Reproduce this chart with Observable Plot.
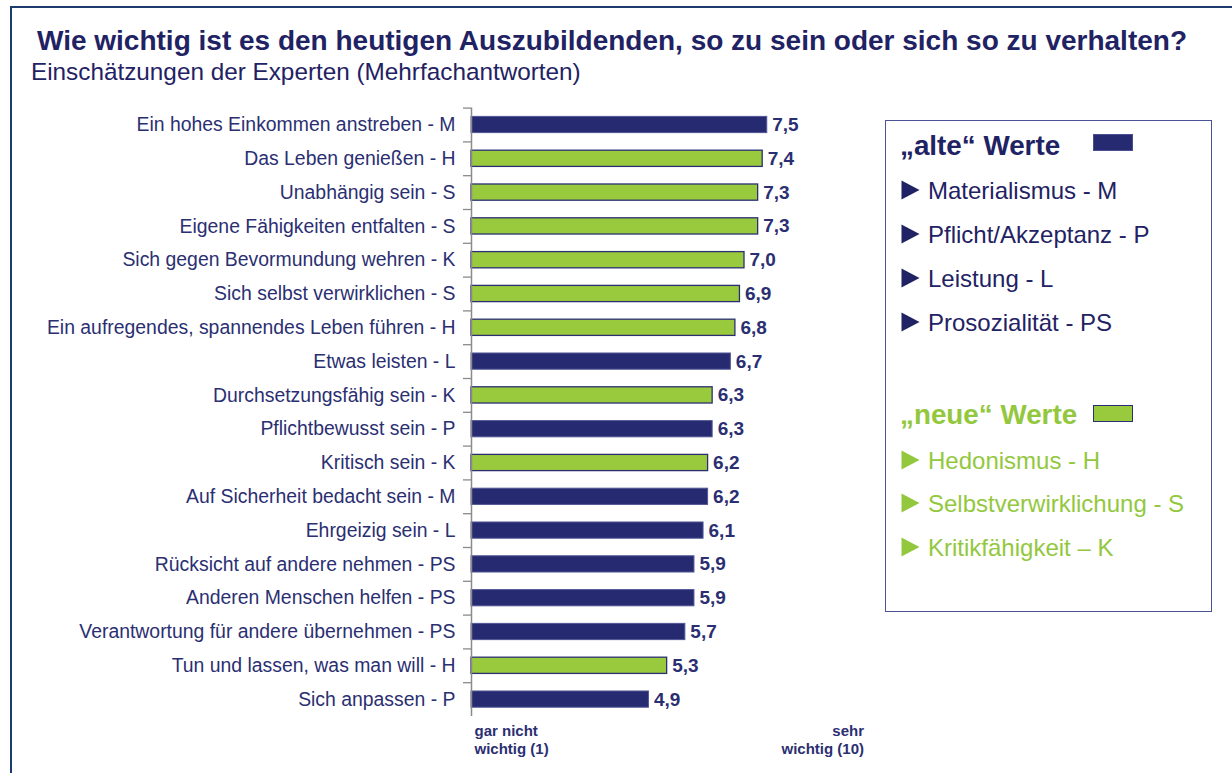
<!DOCTYPE html>
<html><head><meta charset="utf-8">
<script src="https://cdn.jsdelivr.net/npm/d3@7"></script>
<script src="https://cdn.jsdelivr.net/npm/@observablehq/plot@0.6"></script>
<style>
html,body{margin:0;padding:0;background:#fff;}
#page{position:relative;width:1232px;height:773px;overflow:hidden;background:#fff;font-family:"Liberation Sans",Arial,sans-serif;}
.frameTop{position:absolute;left:10px;top:6px;width:1222px;height:2px;background:#1d3a6c;}
.frameLeft{position:absolute;left:10px;top:6px;width:2px;height:767px;background:#1d3a6c;}
.abs{position:absolute;white-space:nowrap;line-height:1;}
#title{left:37px;font-size:28px;font-weight:bold;color:#1f2263;}
#subtitle{left:31px;font-size:24.3px;color:#1f2263;}
#chart{position:absolute;left:0;top:95px;}
#legendBox{position:absolute;left:885px;top:120px;width:325px;height:490px;border:1.5px solid #4a5396;}
.head{font-size:27.8px;font-weight:bold;}
.item{font-size:24px;}
.tri{position:absolute;}
.sw{position:absolute;width:40px;height:17px;box-sizing:border-box;}
</style></head><body>
<div id="page">
  <div class="frameTop"></div><div class="frameLeft"></div>
  <div id="title" class="abs"></div>
  <div id="subtitle" class="abs"></div>
  <div id="chart"></div>
  <div id="legendBox"></div>
  <div id="legend"></div>
</div>
<script>
const titleText = "Wie wichtig ist es den heutigen Auszubildenden, so zu sein oder sich so zu verhalten?";
const subtitleText = "Einschätzungen der Experten (Mehrfachantworten)";

const labels = [
  "Ein hohes Einkommen anstreben - M",
  "Das Leben genießen - H",
  "Unabhängig sein - S",
  "Eigene Fähigkeiten entfalten - S",
  "Sich gegen Bevormundung wehren - K",
  "Sich selbst verwirklichen - S",
  "Ein aufregendes, spannendes Leben führen - H",
  "Etwas leisten - L",
  "Durchsetzungsfähig sein - K",
  "Pflichtbewusst sein - P",
  "Kritisch sein - K",
  "Auf Sicherheit bedacht sein - M",
  "Ehrgeizig sein - L",
  "Rücksicht auf andere nehmen - PS",
  "Anderen Menschen helfen - PS",
  "Verantwortung für andere übernehmen - PS",
  "Tun und lassen, was man will - H",
  "Sich anpassen - P"
];
const values = [7.5, 7.4, 7.3, 7.3, 7.0, 6.9, 6.8, 6.7, 6.3, 6.3, 6.2, 6.2, 6.1, 5.9, 5.9, 5.7, 5.3, 4.9];
const groups = ["alt","neu","neu","neu","neu","neu","neu","alt","neu","alt","neu","alt","alt","alt","alt","alt","neu","alt"];

const scaleEnds = [1, 10];
const scaleEndLabels = ["gar nicht\nwichtig (1)", "sehr\nwichtig (10)"];

const legendOldTitle = "„alte“ Werte";
const legendOldItems = ["Materialismus - M", "Pflicht/Akzeptanz - P", "Leistung - L", "Prosozialität - PS"];
const legendNewTitle = "„neue“ Werte";
const legendNewItems = ["Hedonismus - H", "Selbstverwirklichung - S", "Kritikfähigkeit – K"];

const NAVY = "#262a70";
const GREEN = "#99c93c";
const TEXT = "#2b2f72";
const LGREEN = "#93c83e";

function place(el, baseline, fs){ el.style.top = (baseline - 0.83*fs) + "px"; }
const t = document.getElementById("title"); t.textContent = titleText; place(t, 50, 28);
const s = document.getElementById("subtitle"); s.textContent = subtitleText; place(s, 80, 24.3);

// chart
const data = labels.map((label, i) => ({label, value: values[i], group: groups[i]}));
const W = 885, H = 675, mT = 12.6, mB = 54, mL = 471, mR = 4.5;
const step = (H - mT - mB) / labels.length;
const fmt = v => d3.format(".1f")(v).replace(".", ",");
const ends = scaleEnds.map((v, i) => ({v, t: scaleEndLabels[i]}));

const plot = Plot.plot({
  width: W, height: H,
  marginLeft: mL, marginRight: mR, marginTop: mT, marginBottom: mB,
  style: {fontFamily: "Liberation Sans, Arial, sans-serif", background: "transparent", overflow: "visible"},
  x: {domain: scaleEnds, axis: null},
  y: {domain: labels, paddingInner: 0.52, paddingOuter: 0.26, round: false, label: null},
  marks: [
    Plot.barX(data.filter(d => d.group === "alt"), {y: "label", x1: scaleEnds[0], x2: "value", fill: NAVY, stroke: "#515696", strokeWidth: 1}),
    Plot.barX(data.filter(d => d.group === "neu"), {y: "label", x1: scaleEnds[0], x2: "value", fill: GREEN, stroke: "#2b2f72", strokeWidth: 1.3}),
    Plot.ruleX([scaleEnds[0]], {stroke: "#8a8a8a", strokeWidth: 1.5}),
    Plot.axisY({tickSize: 8, tickFormat: () => "", label: null, stroke: "#8a8a8a", strokeWidth: 1.3, dy: -step / 2}),
    Plot.axisY({tickSize: 0, tickPadding: 16, fontSize: 19.4, label: null, color: TEXT}),
    Plot.text(data, {y: "label", x: "value", text: d => fmt(d.value), textAnchor: "start", dx: 5, fontSize: 19, fontWeight: "bold", fill: TEXT}),
    Plot.text(ends.slice(0, 1), {x: "v", text: "t", frameAnchor: "bottom", lineAnchor: "top", textAnchor: "start", dx: 3, dy: 7, lineHeight: 1.2, fontSize: 15, fontWeight: "bold", fill: TEXT}),
    Plot.text(ends.slice(1), {x: "v", text: "t", frameAnchor: "bottom", lineAnchor: "top", textAnchor: "end", dx: -17, dy: 7, lineHeight: 1.2, fontSize: 15, fontWeight: "bold", fill: TEXT})
  ]
});
document.getElementById("chart").appendChild(plot);

// legend
const L = document.getElementById("legend");
function addText(txt, x, baseline, cls, color){
  const d = document.createElement("div");
  d.className = "abs " + cls; d.textContent = txt; d.style.left = x + "px"; d.style.color = color;
  const fs = cls === "head" ? 27.8 : 24;
  place(d, baseline, fs);
  L.appendChild(d);
}
function addTri(x, baseline, color){
  const ns = "http://www.w3.org/2000/svg";
  const sv = document.createElementNS(ns, "svg");
  sv.setAttribute("width", 19); sv.setAttribute("height", 20);
  sv.setAttribute("class", "tri");
  sv.style.left = x + "px"; sv.style.top = (baseline - 19) + "px";
  const p = document.createElementNS(ns, "polygon");
  p.setAttribute("points", "0.5,0.5 18.5,10 0.5,19.5"); p.setAttribute("fill", color);
  sv.appendChild(p); L.appendChild(sv);
}
function addSwatch(x, y, fill, stroke){
  const d = document.createElement("div");
  d.className = "sw"; d.style.left = x + "px"; d.style.top = y + "px";
  d.style.background = fill; d.style.border = "1.5px solid " + stroke;
  L.appendChild(d);
}
addText(legendOldTitle, 900, 155, "head", "#1f2263");
addSwatch(1093, 134, NAVY, "#4a4f92");
const oldBase = [199, 243, 287, 331];
legendOldItems.forEach((it, i) => { addTri(901, oldBase[i], "#1f2263"); addText(it, 928, oldBase[i], "item", "#1f2263"); });
addText(legendNewTitle, 900, 424, "head", LGREEN);
addSwatch(1093, 405, GREEN, "#2b2f72");
const newBase = [469, 512, 556];
legendNewItems.forEach((it, i) => { addTri(901, newBase[i], LGREEN); addText(it, 928, newBase[i], "item", LGREEN); });
</script>
</body></html>
